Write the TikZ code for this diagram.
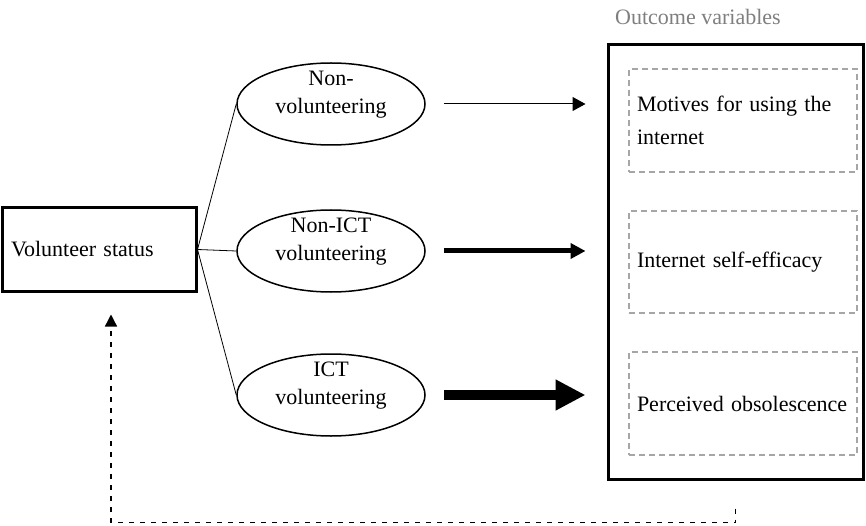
\documentclass[tikz,border=0pt]{standalone}
\usepackage{fontspec}
\setmainfont{Liberation Serif}
\usetikzlibrary{shapes.geometric,arrows.meta}
\definecolor{dashgray}{HTML}{A6A6A6}
\definecolor{labelgray}{HTML}{7F7F7F}
\tikzset{
  txt/.style={font=\fontsize{22pt}{28pt}\selectfont},
  ell/.style={draw, line width=1.5pt, ellipse, minimum width=188pt, minimum height=82pt, inner sep=0pt},
  lbl/.style={txt, align=center, inner sep=0pt},
  thickbox/.style={draw, line width=3pt, inner sep=0pt},
  innerbox/.style={draw=dashgray, line width=1.2pt, dash pattern=on 6pt off 4pt, minimum width=228pt, inner xsep=8pt, text width=212pt, align=left, txt},
  link/.style={line width=0.8pt},
  feed/.style={line width=1.3pt, dash pattern=on 5pt off 6pt, -{Triangle[length=12pt,width=12pt]}}
}
\begin{document}
\begin{tikzpicture}[x=1pt,y=-1pt]
\useasboundingbox (0,0) rectangle (866,526);
% left box
\node[thickbox, txt, minimum width=194pt, minimum height=83pt, text width=176pt, inner xsep=9pt, align=left] (vs) at (99,249.5) {Volunteer status};
% ellipses
\node[ell] (e1) at (331,104) {};
\node[lbl] (t1) at ([yshift=9pt]e1.center) {Non-\\volunteering};
\node[ell] (e2) at (331,251) {};
\node[lbl] (t2) at ([yshift=9pt]e2.center) {Non-ICT\\volunteering};
\node[ell] (e3) at (331,395) {};
\node[lbl] (t3) at ([yshift=9pt]e3.center) {ICT\\volunteering};
% outcome box
\node[thickbox, minimum width=255pt, minimum height=434pt] (out) at (735.5,262) {};
\node[txt, text=labelgray, anchor=west, inner sep=0pt] (olab) at (615,17) {Outcome variables};
\node[innerbox, minimum height=103pt] (b1) at (743,120.5) {Motives for using the\\[5pt]internet};
\node[innerbox, minimum height=102pt] (b2) at (743,262) {Internet self-efficacy};
\node[innerbox, minimum height=103pt] (b3) at (743,403.5) {\mbox{Perceived obsolescence}};
% links
\draw[link] (vs.east) -- (e1.west);
\draw[link] (vs.east) -- (e2.west);
\draw[link] (vs.east) -- (e3.west);
% arrows
\draw[line width=1pt, -{Triangle[length=13pt,width=14pt]}, shorten <=18pt, shorten >=21pt] (e1.east) -- (e1.east -| out.west);
\draw[line width=5pt, -{Triangle[length=15pt,width=15pt]}, shorten <=18pt, shorten >=21pt] (e2.east) -- (e2.east -| out.west);
\draw[line width=9.5pt, -{Triangle[length=30pt,width=29pt]}, shorten <=18pt, shorten >=21pt] (e3.east) -- (e3.east -| out.west);
% feedback
\coordinate (fs) at ([yshift=-28pt]out.south);
\coordinate (fe) at ([xshift=12pt,yshift=-22pt]vs.south);
\draw[feed] (fs) -- ++(0,14) -| (fe);
\end{tikzpicture}
\end{document}
